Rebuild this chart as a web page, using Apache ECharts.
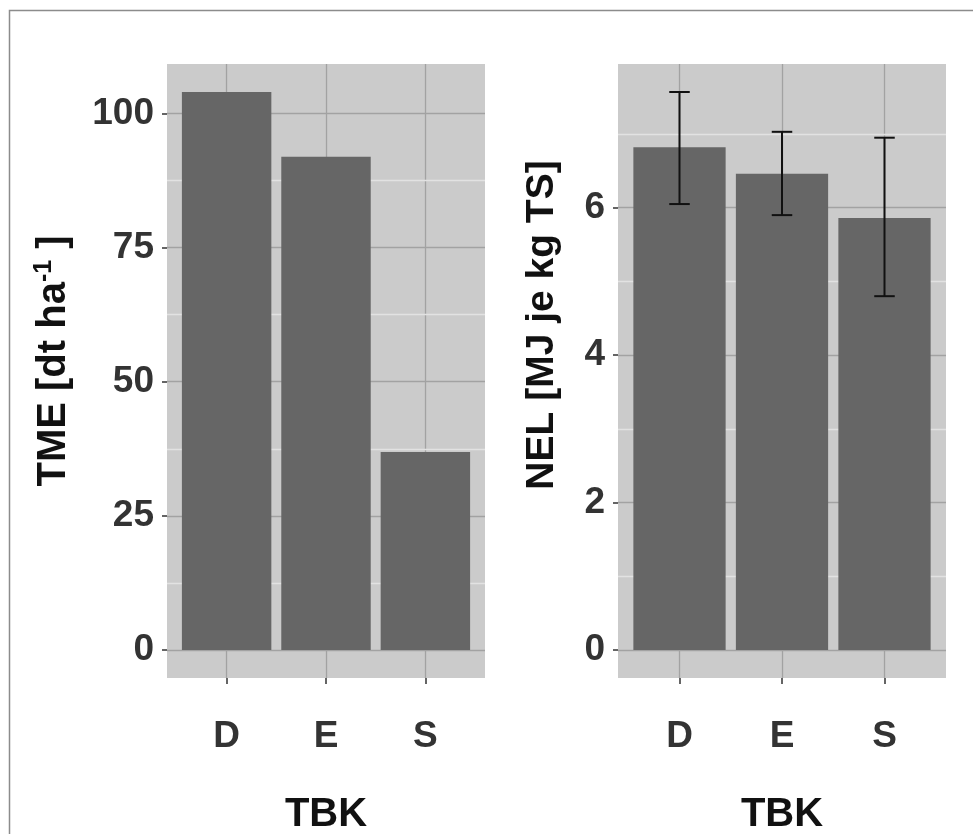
<!DOCTYPE html>
<html>
<head>
<meta charset="utf-8">
<script src="https://cdn.jsdelivr.net/npm/echarts@6/dist/echarts.min.js"></script>
<style>
html,body{margin:0;padding:0;background:#fff;}
#chart{width:973px;height:834px;}
</style>
</head>
<body>
<div id="chart"></div>
<script>
// ---- data ----
var categories = ['D', 'E', 'S'];
var tmeValues = [104.0, 91.9, 36.9];
var nelValues = [6.82, 6.46, 5.86];
var nelLow = [6.05, 5.90, 4.80];
var nelHigh = [7.57, 7.03, 6.95];
var tmeTicks = [0, 25, 50, 75, 100];
var tmeMinor = [12.5, 37.5, 62.5, 87.5];
var nelTicks = [0, 2, 4, 6];
var nelMinor = [1, 3, 5, 7];
var catPos = [1, 2, 3];

// ---- styles ----
var FONT = 'Liberation Sans';
var panelBg = '#cbcbcb';
var majorGrid = '#a2a2a2';
var minorGrid = '#e2e2e2';
var barColor = '#666666';
var tickColor = '#333333';
var BAR_W = 0.9, CAP_W = 0.2;

function barRender(params, api) {
  var x = api.value(0), y = api.value(1);
  var p1 = api.coord([x - BAR_W / 2, y]);
  var p2 = api.coord([x + BAR_W / 2, 0]);
  return {
    type: 'rect',
    shape: {x: p1[0], y: p1[1], width: p2[0] - p1[0], height: p2[1] - p1[1]},
    style: {fill: barColor}
  };
}
function errRender(params, api) {
  var x = api.value(0), lo = api.value(1), hi = api.value(2);
  var top = api.coord([x, hi]), bot = api.coord([x, lo]);
  var cl = api.coord([x - CAP_W / 2, hi]), cr = api.coord([x + CAP_W / 2, hi]);
  var bl = api.coord([x - CAP_W / 2, lo]), br = api.coord([x + CAP_W / 2, lo]);
  var st = {stroke: '#111111', lineWidth: 2};
  return {
    type: 'group',
    children: [
      {type: 'line', shape: {x1: top[0], y1: top[1], x2: bot[0], y2: bot[1]}, style: st},
      {type: 'line', shape: {x1: cl[0], y1: cl[1], x2: cr[0], y2: cr[1]}, style: st},
      {type: 'line', shape: {x1: bl[0], y1: bl[1], x2: br[0], y2: br[1]}, style: st}
    ]
  };
}

function xAxisFor(gi) {
  return {
    type: 'value', gridIndex: gi, min: 0.4, max: 3.6, position: 'bottom',
    name: 'TBK', nameLocation: 'middle', nameGap: 117,
    nameTextStyle: {fontFamily: FONT, fontWeight: 'bold', fontSize: 40, color: '#111'},
    axisLine: {show: false, onZero: false},
    axisTick: {show: true, length: 6, customValues: catPos, lineStyle: {color: tickColor, width: 1.5}},
    axisLabel: {customValues: catPos, margin: 40, fontFamily: FONT, fontWeight: 'bold', fontSize: 37, color: tickColor,
      formatter: function (v) { return categories[Math.round(v) - 1] || ''; }},
    splitLine: {show: true, lineStyle: {color: majorGrid, width: 1.3}}
  };
}
function yAxisMajor(gi, min, max, ticks, name, gap, fs, shiftUp) {
  return {
    type: 'value', gridIndex: gi, min: min, max: max, position: 'left', offset: 0,
    name: name, nameLocation: 'middle', nameGap: gap, nameRotate: 90,
    nameTextStyle: {fontFamily: FONT, fontWeight: 'bold', fontSize: fs, color: '#111',
      padding: [0, 0, 0, shiftUp * 2],
      rich: {
        n: {fontFamily: FONT, fontWeight: 'bold', fontSize: fs, color: '#111'},
        s: {fontFamily: FONT, fontWeight: 'bold', fontSize: 25, color: '#111', verticalAlign: 'top', padding: [0, 0, 18, 0]}
      }},
    axisLine: {show: false, onZero: false},
    axisTick: {show: true, length: 5, customValues: ticks, lineStyle: {color: tickColor, width: 1.5}},
    axisLabel: {customValues: ticks, margin: 13, fontFamily: FONT, fontWeight: 'bold', fontSize: 37, color: tickColor},
    splitLine: {show: true, lineStyle: {color: majorGrid, width: 1.3}},
    z: 2
  };
}
function yAxisMinor(gi, min, max, ticks) {
  return {
    type: 'value', gridIndex: gi, min: min, max: max, position: 'left', offset: 0,
    axisLine: {show: false, onZero: false},
    axisTick: {show: false, customValues: ticks},
    axisLabel: {show: false, customValues: ticks},
    splitLine: {show: true, lineStyle: {color: minorGrid, width: 1.3}},
    z: 1
  };
}

var chart = echarts.init(document.getElementById('chart'), null, {renderer: 'canvas'});
chart.setOption({
  backgroundColor: '#ffffff',
  animation: false,
  graphic: [{
    type: 'rect', z: -10,
    shape: {x: 9.5, y: 10.5, width: 1000, height: 900},
    style: {fill: 'none', stroke: '#8c8c8c', lineWidth: 1.5}
  }],
  grid: [
    {left: 167, right: 488, top: 64, bottom: 156, show: true, backgroundColor: panelBg, borderWidth: 0,
      containLabel: false, outerBoundsMode: 'none'},
    {left: 618, right: 27, top: 64, bottom: 156, show: true, backgroundColor: panelBg, borderWidth: 0,
      containLabel: false, outerBoundsMode: 'none'}
  ],
  xAxis: [xAxisFor(0), xAxisFor(1)],
  yAxis: [
    yAxisMinor(0, -5.2, 109.2, tmeMinor),
    yAxisMajor(0, -5.2, 109.2, tmeTicks, '{n|TME [dt ha}{s|-1}{n| ]}', 92, 40, 10),
    yAxisMinor(1, -0.38, 7.95, nelMinor),
    yAxisMajor(1, -0.38, 7.95, nelTicks, 'NEL [MJ je kg TS]', 56, 39, 46)
  ],
  series: [
    {type: 'custom', xAxisIndex: 0, yAxisIndex: 1, renderItem: barRender,
      data: categories.map(function (c, i) { return [catPos[i], tmeValues[i]]; }), z: 5},
    {type: 'custom', xAxisIndex: 1, yAxisIndex: 3, renderItem: barRender,
      data: categories.map(function (c, i) { return [catPos[i], nelValues[i]]; }), z: 5},
    {type: 'custom', xAxisIndex: 1, yAxisIndex: 3, renderItem: errRender,
      data: categories.map(function (c, i) { return [catPos[i], nelLow[i], nelHigh[i]]; }), z: 6}
  ]
});
</script>
</body>
</html>
